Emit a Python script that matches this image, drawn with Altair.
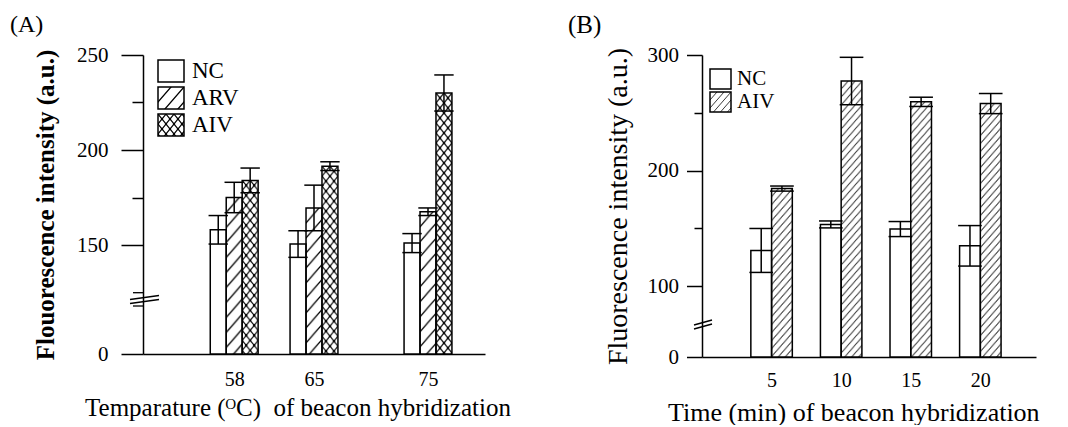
import json
import urllib.parse
import altair as alt
import pandas as pd

SERIF = "Liberation Serif"

# ---------------- Panel A data ----------------
temps = [58, 65, 75]
series_a = ["NC", "ARV", "AIV"]
nc_a = [158, 150.5, 151]
nc_a_err = [7.5, 7, 5]
arv_a = [175, 169.5, 167.5]
arv_a_err = [8, 12, 2]
aiv_a = [184, 191.5, 230]
aiv_a_err = [6.5, 2.3, 9.5]
yticks_a = [0, 150, 175, 200, 225, 250]
minor_a = [175, 225]

# ---------------- Panel B data ----------------
times = [5, 10, 15, 20]
series_b = ["NC", "AIV"]
nc_b = [131, 153.5, 149.5, 135]
nc_b_err = [19, 3, 6.5, 17.5]
aiv_b = [184.5, 277.5, 259.5, 258]
aiv_b_err = [2.2, 20.5, 4, 8.7]
yticks_b = [0, 100, 150, 200, 250, 300]
minor_b = [150, 250]

df_a = pd.DataFrame({
    "x": temps * 3,
    "series": [s for s in series_a for _ in temps],
    "value": nc_a + arv_a + aiv_a,
    "err": nc_a_err + arv_a_err + aiv_a_err,
})
df_b = pd.DataFrame({
    "x": times * 2,
    "series": [s for s in series_b for _ in times],
    "value": nc_b + aiv_b,
    "err": nc_b_err + aiv_b_err,
})


def hatch_uri(tw, th, body):
    svg = ("<svg xmlns='http://www.w3.org/2000/svg' width='100%' height='100%'>"
           f"<defs><pattern id='h' width='{tw}' height='{th}' patternUnits='userSpaceOnUse'>{body}</pattern></defs>"
           "<rect width='100%' height='100%' fill='white'/>"
           "<rect width='100%' height='100%' fill='url(#h)'/></svg>")
    return "data:image/svg+xml;charset=utf-8," + urllib.parse.quote(svg)


URI_ARV_A = hatch_uri(13, 15, "<path d='M0,15 L13,0 M-2,2.3 L2,-2.3 M11,17.3 L15,12.7' stroke='black' stroke-width='1.3' fill='none'/>")
URI_AIV_A = hatch_uri(8, 10, "<path d='M0,0 L8,10 M8,0 L0,10' stroke='black' stroke-width='1.1' fill='none'/>"
                             "<circle cx='4' cy='5' r='1.2'/><circle cx='0' cy='0' r='1.2'/><circle cx='8' cy='0' r='1.2'/>"
                             "<circle cx='0' cy='10' r='1.2'/><circle cx='8' cy='10' r='1.2'/>")
URI_AIV_B = hatch_uri(7, 8, "<path d='M0,8 L7,0 M-1,1.14 L1,-1.14 M6,9.14 L8,6.86' stroke='#222' stroke-width='0.9' fill='none'/>")

one = pd.DataFrame({"k": [0]})


def minor_test(vals):
    return " || ".join(f"datum.value == {v}" for v in vals)


def panel(df, series, bw, cap, xdomain, ydomain, yrange, W, H, xvals, yvals, minor,
          major_tick, minor_tick, ylab_pad, xlab_pad, ytitle, ytitle_size, ytitle_weight, ytitle_x,
          xtitle, xtitle_size, xtitle_x, xtitle_y, hatch, legend, label, label_xy, breaks, label_size):
    n = len(series)
    xs_scale = alt.Scale(domain=xdomain, nice=False, zero=False)
    ys_scale = alt.Scale(domain=ydomain, range=yrange, nice=False, zero=False)
    base = alt.Chart(df).transform_calculate(
        k=f"indexof({json.dumps(series)}, datum.series)"
    ).transform_calculate(
        xs=f"datum.x + (datum.k - {n / 2}) * {bw}"
    ).transform_calculate(
        xe=f"datum.xs + {bw}",
        xc=f"datum.xs + {bw / 2}",
        lo="datum.value - datum.err",
        hi="datum.value + datum.err",
        zero="0",
    ).transform_calculate(
        cl=f"datum.xc - {cap}",
        cr=f"datum.xc + {cap}",
    )
    test = minor_test(minor)
    yaxis = alt.Axis(
        values=yvals, title=ytitle, titleFont=SERIF, titleFontSize=ytitle_size,
        titleFontWeight=ytitle_weight, titleColor="black", titleX=ytitle_x,
        labelFont=SERIF, labelFontSize=21, labelColor="black", labelPadding=ylab_pad,
        labelExpr=f"({test}) ? '' : datum.label", labelFlush=False,
        tickSize={"condition": {"test": test, "value": minor_tick}, "value": major_tick},
        tickColor="black", tickWidth=1.5, domainColor="black", domainWidth=1.5, grid=False,
    )
    xaxis = alt.Axis(
        values=xvals, title=xtitle, titleFont=SERIF, titleFontSize=xtitle_size,
        titleFontWeight="normal", titleColor="black", titleX=xtitle_x, titleY=xtitle_y,
        titleBaseline="alphabetic",
        labelFont=SERIF, labelFontSize=20, labelColor="black", labelPadding=xlab_pad,
        labelFlush=False, ticks=False, domainColor="black", domainWidth=1.5, grid=False,
    )

    def X(f):
        return alt.X(f, scale=xs_scale, axis=xaxis)

    def Y(f):
        return alt.Y(f, scale=ys_scale, axis=yaxis)

    bar_enc = dict(x=X("xs:Q"), x2="xe:Q", y=Y("value:Q"), y2="zero:Q")

    layers = [base.mark_rect(fill="white").encode(**bar_enc)]
    for s, uri in hatch.items():
        layers.append(base.transform_filter(f"datum.series == '{s}'").mark_image(aspect=False)
                      .encode(url=alt.value(uri), **bar_enc))
    layers.append(base.mark_rect(fillOpacity=0, stroke="black", strokeWidth=1.5).encode(**bar_enc))
    layers.append(base.mark_rule(color="black", strokeWidth=1.5).encode(
        x=X("xc:Q"), y=Y("lo:Q"), y2="hi:Q"))
    for f in ["lo", "hi"]:
        layers.append(base.mark_rule(color="black", strokeWidth=1.5).encode(
            x=X("cl:Q"), x2="cr:Q", y=Y(f"{f}:Q")))

    # legend (box column at a fixed place inside the plot, one row per series)
    lx0, lx1, ly0, bh, step, tx, tsize = legend
    leg_df = pd.DataFrame({"series": series})
    for i, s in enumerate(series):
        y0, y1 = ly0 + i * step, ly0 + i * step + bh
        item = alt.Chart(leg_df).transform_filter(f"datum.series == '{s}'")
        pos = dict(x=alt.value(lx0), x2=alt.value(lx1), y=alt.value(y0), y2=alt.value(y1))
        layers.append(item.mark_rect(fill="white").encode(**pos))
        if s in hatch:
            layers.append(item.mark_image(aspect=False).encode(url=alt.value(hatch[s]), **pos))
        layers.append(item.mark_rect(fillOpacity=0, stroke="black", strokeWidth=1.5).encode(**pos))
        layers.append(item.mark_text(align="left", baseline="middle", font=SERIF, fontSize=tsize, color="black")
                      .encode(x=alt.value(tx), y=alt.value((y0 + y1) / 2), text="series:N"))
    # panel label
    layers.append(alt.Chart(one).mark_text(text=label, align="left", baseline="alphabetic", font=SERIF,
                                           fontSize=label_size, color="black")
                  .encode(x=alt.value(label_xy[0]), y=alt.value(label_xy[1])))
    # axis break marks
    for (x1, y1, x2, y2) in breaks:
        layers.append(alt.Chart(one).mark_rule(color="black", strokeWidth=1.3)
                      .encode(x=alt.value(x1), y=alt.value(y1), x2=alt.value(x2), y2=alt.value(y2)))
    return alt.layer(*layers).properties(width=W, height=H)


panel_a = panel(
    df_a, series_a, bw=1.4, cap=0.85, xdomain=[50, 80], ydomain=[0, 120, 250], yrange=[299, 247, 0],
    W=342, H=299, xvals=temps, yvals=yticks_a, minor=minor_a, major_tick=22, minor_tick=11,
    ylab_pad=13, xlab_pad=15,
    ytitle="Flouorescence intensity (a.u.)", ytitle_size=25, ytitle_weight="bold", ytitle_x=-85,
    xtitle="Temparature (\u1d3cC)\u00a0 of beacon hybridization", xtitle_size=25, xtitle_x=154.5, xtitle_y=61,
    hatch={"ARV": URI_ARV_A, "AIV": URI_AIV_A},
    legend=(15, 41, 5, 22, 27, 49, 23), label="(A)", label_xy=(-133, -23),
    breaks=[(-13, 244.5, 16, 240.5), (-13, 248.5, 16, 244.5), (-10, 237.7, 0, 237.7), (-10, 251, 0, 251)],
    label_size=24,
)

panel_b = panel(
    df_b, series_b, bw=1.49, cap=0.85, xdomain=[0, 24], ydomain=[0, 70, 300], yrange=[302, 266, 0],
    W=334, H=302, xvals=times, yvals=yticks_b, minor=minor_b, major_tick=15.5, minor_tick=8,
    ylab_pad=8, xlab_pad=13,
    ytitle="Fluorescence intensity (a.u.)", ytitle_size=28, ytitle_weight="normal", ytitle_x=-70,
    xtitle="Time (min) of beacon hybridization", xtitle_size=26, xtitle_x=151.3, xtitle_y=63,
    hatch={"AIV": URI_AIV_B},
    legend=(8, 29, 14, 20, 23, 35, 21), label="(B)", label_xy=(-134, -22),
    breaks=[(-8, 270, 10, 265), (-8, 274, 10, 269)],
    label_size=25,
)

chart = alt.hconcat(panel_a, panel_b, spacing=217, bounds="flush").properties(
    padding={"left": 2, "top": 5, "right": 0, "bottom": 0},
    background="white",
).configure_view(stroke=None)

chart.save("out.html", embed_options={"renderer": "svg", "actions": False})
